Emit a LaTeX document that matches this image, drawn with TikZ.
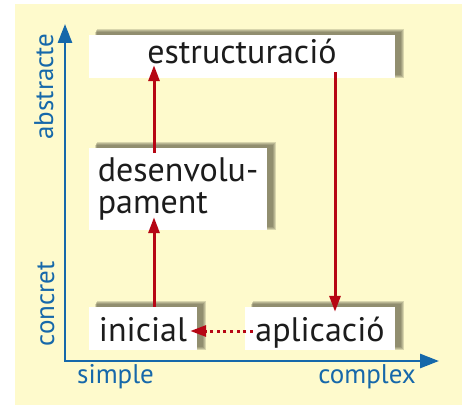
\documentclass[tikz,border=0pt]{standalone}
\usepackage{fontspec}
\setmainfont{PT Sans}
\usetikzlibrary{arrows.meta,calc}

\definecolor{bgyellow}{RGB}{254,250,204}
\definecolor{axisblue}{RGB}{22,104,170}
\definecolor{flowred}{RGB}{182,6,20}
\definecolor{shadeolive}{RGB}{78,76,54}
\definecolor{ink}{RGB}{28,28,28}

\pgfdeclarelayer{backdrop}
\pgfdeclarelayer{shade}
\pgfsetlayers{backdrop,shade,main}

\tikzset{
  stage/.style={fill=white, inner sep=0pt, text=ink,
    font=\fontsize{34}{31.5}\selectfont},
  axis/.style={draw=axisblue, line width=2.8pt, line join=miter,
    {Triangle[length=19pt,width=14pt]}-{Triangle[length=19pt,width=14pt]}},
  axislabel/.style={text=axisblue, inner sep=0pt,
    font=\fontsize{27}{30}\selectfont},
  flow/.style={draw=flowred, line width=3pt,
    -{Triangle[length=16pt,width=11pt]}},
  dotflow/.style={flow, dash pattern=on 3pt off 3.6pt},
}

\begin{document}
\begin{tikzpicture}[x=1pt,y=1pt]
  \useasboundingbox (0,0) rectangle (462,405);
  \begin{pgfonlayer}{backdrop}
    \fill[white] (0,0) rectangle (462,405);
    \fill[bgyellow] (15,0) rectangle (462,401);
  \end{pgfonlayer}

  % stages
  \node[stage, minimum width=306pt, minimum height=43pt,
        text height=15pt, text depth=0pt] (estr) at (242,348.5) {estructuració};
  \node[stage, minimum width=178pt, minimum height=82pt, align=left]
        (dev) at (178,216) {desenvolu-\\pament};
  \node[stage, minimum width=108pt, minimum height=43pt,
        text height=25pt, text depth=0pt] (ini) at (143,76.5) {inicial};
  \node[stage, minimum width=150pt, minimum height=43pt,
        text height=25pt, text depth=0pt] (apl) at (320,76.5) {aplicació};

  % soft shadows behind the stages, cast up and to the right
  \begin{pgfonlayer}{shade}
    \foreach \n in {estr,dev,ini,apl}{
      \foreach \g in {2.4,1.6,0.8,0}{
        \fill[shadeolive, opacity=0.21]
          ([shift={(6pt+\g pt,3pt-\g pt)}]\n.south west) rectangle
          ([shift={(6pt+\g pt,3pt+\g pt)}]\n.north east);
      }
    }
  \end{pgfonlayer}

  % axes
  \coordinate (ytop) at (65,381);
  \coordinate (origin) at (65,44);
  \coordinate (xend) at (439,44);
  \draw[axis] (ytop) -- (origin) -- (xend);

  \node[axislabel, rotate=90, anchor=base] (abs) at (53,318.5) {abstracte};
  \node[axislabel, rotate=90, anchor=base] (conc) at (54,101) {concret};
  \node[axislabel, anchor=base west] (simp) at (77,22) {simple};
  \node[axislabel, anchor=base east] (cplx) at (416,22) {complex};

  % transitions between stages
  \draw[flow] ([xshift=11pt]ini.north) -- ([xshift=-24pt,yshift=13pt]dev.south);
  \draw[flow] ([xshift=-24pt,yshift=-5pt]dev.north) -- ([xshift=-88pt,yshift=13pt]estr.south);
  \draw[flow] ([xshift=93pt,yshift=6pt]estr.south) -- ([xshift=15pt,yshift=-5pt]apl.north);
  \draw[dotflow] ([xshift=8pt,yshift=-2.5pt]apl.west) -- ([xshift=-7pt,yshift=-2.5pt]ini.east);
\end{tikzpicture}
\end{document}
